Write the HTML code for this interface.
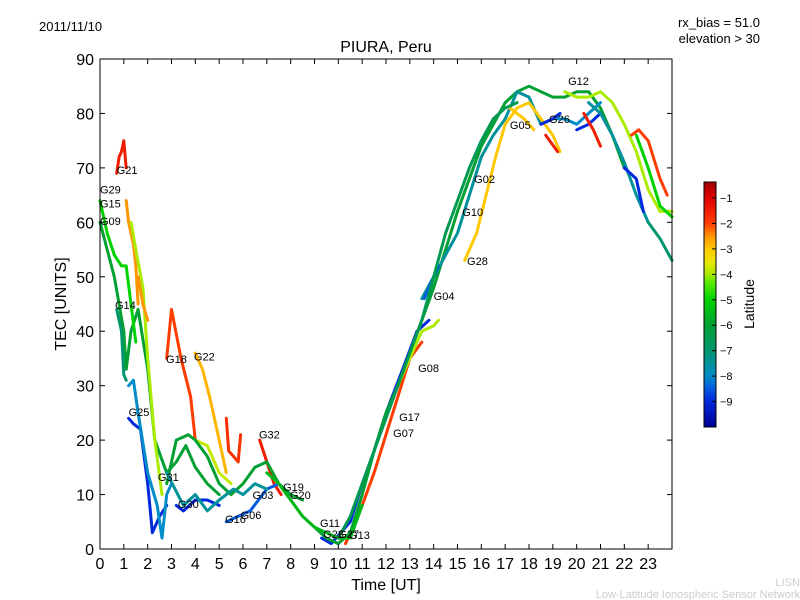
<!DOCTYPE html>
<html><head><meta charset="utf-8"><style>
body{margin:0;background:#fff;}
svg{display:block;font-family:"Liberation Sans","DejaVu Sans",sans-serif;}
</style></head><body>
<svg id="chart" width="800" height="600" viewBox="0 0 800 600" xmlns="http://www.w3.org/2000/svg">
<defs>
<linearGradient id="jet" x1="0" y1="1" x2="0" y2="0"></linearGradient>
</defs>
<text x="39" y="31" font-size="13">2011/11/10</text>
<text x="760" y="27" font-size="13" text-anchor="end">rx_bias = 51.0</text>
<text x="760" y="43" font-size="13" text-anchor="end">elevation &gt; 30</text>
<text x="386" y="52" font-size="16" text-anchor="middle">PIURA, Peru</text>
<g id="plot"></g>
<rect x="100" y="59" width="572" height="490" fill="none" stroke="#000" stroke-width="1"/>
<g id="axes"></g>
<text x="386" y="590" font-size="16" text-anchor="middle">Time [UT]</text>
<text transform="translate(66,304) rotate(-90)" font-size="16" text-anchor="middle">TEC [UNITS]</text>
<rect x="704" y="182" width="12" height="245" fill="url(#jet)" stroke="#000" stroke-width="1"/>
<g id="cbar"></g>
<text transform="translate(754,304) rotate(-90)" font-size="14" text-anchor="middle">Latitude</text>
<text x="800" y="586" font-size="11" fill="#cccccc" text-anchor="end">LISN</text>
<text x="800" y="598" font-size="11" fill="#cccccc" text-anchor="end">Low-Latitude Ionospheric Sensor Network</text>
</svg>
<script>
const xTicks=[0,1,2,3,4,5,6,7,8,9,10,11,12,13,14,15,16,17,18,19,20,21,22,23];
const yTicks=[0,10,20,30,40,50,60,70,80,90];
const cbarTicks=[-1,-2,-3,-4,-5,-6,-7,-8,-9];
const trackLats=[-1.5,-2.5,-6,-5,-7,-9,-8,-4,-2.5,-2,-3.8,-2.8,-1.8,-1.5,-9,-8.5,-6,-7.5,-2,-9,-6,-7.5,-3,-8.5,-4,-4,-9,-8,-9,-7.5,-1.5,-1.5,-3,-9,-2,-7,-5,-5.5,-6.5];
const trackTimes=[
[0.7,0.8,0.9,1.0,1.1],[1.1,1.2,1.3,1.4,1.5,1.6],
[0,0.3,0.6,1.0,1.1,1.3,1.6,2.0,2.3,2.8,3.2,3.6,4.0,4.5,5.0],
[0,0.3,0.6,0.9,1.1,1.3,1.5],[0.7,0.9,1.0,1.1],
[1.2,1.4,1.7,2.0,2.2,2.5,2.8],[1.2,1.4,1.6,2.0,2.4,2.6,2.8,3.0],
[1.3,1.5,1.8,2.0,2.3,2.6],[1.6,1.8,2.0],
[2.8,3.0,3.4,3.8,4.0],[4.0,4.5,5.0,5.5],[4.0,4.3,4.6,5.0,5.3],
[5.3,5.4,5.6,5.8,5.9],[6.7,7.0,7.3,7.6],
[3.2,3.5,4.0,4.5,5.0],[5.3,5.8,6.3,7.0,7.5,8.0],
[2.8,3.2,3.7,4.0,4.5,5.0,5.5,6.0,6.5,7.0,7.5,8.0,8.5],
[2.8,3.5,4.0,4.5,5.0,5.6,6.0,6.5,7.0],
[10.3,11,11.5,12,12.5,13,13.5],
[9.3,9.7,10.5,11,11.5,12,12.7,13.3,13.8],
[7.5,8,8.5,9,9.5,10,10.5,11,11.5,12,12.5,13,13.5,14,14.5,15,15.5,16,16.5,17,17.5,18,18.5,19,19.5,20,20.5,21,21.5,22],
[13.5,14,15,15.5,16,16.5,17,17.5,18,18.5,19],
[15.3,15.8,16.2,16.6,17,17.5,18,18.5,19,19.3],
[13.6,13.9,14.2],[12.5,13,13.5,14,14.2],
[19.5,20,20.5,21,21.5,22,22.5,23,23.5,24],
[18.5,19,19.3],[19.2,19.5,20,20.5,21],[20,20.5,21],
[20.5,21,21.5,22,22.5,23],[20.3,20.7,21],[18.7,19.2],
[17.2,17.8,18.2],[22,22.5,22.8],[22.3,22.6,23,23.5,23.8],
[23,23.5,24],[22.5,23,23.5,24],
[7,7.5,8,8.5,9,9.5,10,10.5,11],[10,10.5,11,11.5,12,12.5,13,13.5,14,14.5,15,15.5,16,16.5,17,17.5]
];
const trackTecs=[
[69,72,73,75,70],[64,60,58,56,52,45],
[60,55,50,40,33,40,44,33,20,14,16,19,15,12,10],
[64,58,54,52,52,45,38],[44,40,32,31],
[24,23,22,12,3,6,8],[30,31,25,14,8,2,10,12],
[60,55,48,35,20,10],[50,45,42],
[35,44,35,28,20],[20,19,14,12],[36,33,28,20,14],
[24,18,17,16,21],[20,16,12,10],
[8,7,9,9,8],[5,6,7,11,12,10],
[12,20,21,20,17,12,10,12,15,16,12,10,9],
[14,8,10,7,9,11,10,12,11],
[1,8,14,21,28,35,38],
[2,1,5,12,18,25,33,40,42],
[12,9,6,4,2,1,3,10,18,25,30,36,42,48,55,62,68,74,78,82,84,85,84,83,83,84,84,81,76,70],
[46,50,58,65,72,76,79,84,83,78,79],
[53,58,65,72,78,81,82,79,76,73],
[46,49,52],[30,35,40,41,42],
[84,83,83,84,82,78,73,66,62,62],
[78,79,80],[79,79,78,80,82],[77,78,80],
[82,80,76,71,65,60],[80,77,74],[76,73],
[81,79,77],[70,68,62],[76,77,75,68,65],
[60,57,53],[76,70,63,61],
[14,12,9,6,4,3,2,2,8],[2,6,12,18,24,30,36,42,50,58,64,70,75,79,81,82]
];
const labelNames=["G21","G29","G15","G09","G14","G25","G18","G22","G32","G31","G30","G16","G06","G03","G19","G20","G11","G23","G27","G13","G07","G17","G08","G04","G28","G10","G02","G05","G26","G12"];
const labelTimes=[0.7,0,0,0,0.63,1.2,2.77,3.94,6.67,2.43,3.27,5.25,5.9,6.4,7.68,7.97,9.23,9.36,10.0,10.45,12.3,12.55,13.35,14.0,15.4,15.2,15.7,17.2,18.84,19.64];
const labelTecs=[69.6,66,63.5,60.2,44.8,25.2,34.9,35.4,21,13.2,8.3,5.5,6.2,9.9,11.4,9.9,4.8,2.8,2.8,2.6,21.3,24.2,33.2,46.5,52.9,61.9,68,77.9,79,86];

const NS="http://www.w3.org/2000/svg";
const X0=100,X1=672,Y0=549,Y1=59;
function xs(t){return X0+t*(X1-X0)/24;}
function ys(v){return Y0-v*(Y0-Y1)/90;}
const LMIN=-10,LMAX=-0.37;
function cy(l){return 427-(l-LMIN)*(245/(LMAX-LMIN));}
const cmapL=[-10,-9,-8.4,-8,-7,-6,-5,-4.3,-4,-3.5,-3,-2.5,-2,-1,-0.37];
const cmapC=[[0,0,150],[0,40,220],[0,100,220],[0,140,200],[0,150,110],[0,160,50],[0,210,0],[90,235,0],[170,235,0],[235,230,0],[255,200,0],[255,150,0],[255,60,0],[225,0,0],[160,0,0]];
function jet(l){
  l=Math.max(LMIN,Math.min(LMAX,l));
  for(let i=0;i<cmapL.length-1;i++){
    if(l<=cmapL[i+1]){
      const f=(l-cmapL[i])/(cmapL[i+1]-cmapL[i]);
      const c=cmapC[i].map((v,k)=>Math.round(v+(cmapC[i+1][k]-v)*f));
      return "rgb("+c.join(",")+")";
    }
  }
  return "rgb(160,0,0)";
}
const grad=document.getElementById('jet');
cmapL.forEach((l,i)=>{
  const s=document.createElementNS(NS,'stop');
  s.setAttribute('offset',((l-LMIN)/(LMAX-LMIN)).toFixed(4));
  s.setAttribute('stop-color',"rgb("+cmapC[i].join(",")+")");
  grad.appendChild(s);
});
const plot=document.getElementById('plot');
for(let i=0;i<trackTimes.length;i++){
  const p=document.createElementNS(NS,'polyline');
  
  
  p.setAttribute('points',trackTimes[i].map((t,j)=>xs(t).toFixed(1)+","+ys(trackTecs[i][j]).toFixed(1)).join(" "));
  p.setAttribute('fill','none');
  p.setAttribute('stroke',jet(trackLats[i]));
  p.setAttribute('stroke-width','3');
  p.setAttribute('stroke-linejoin','round');
  p.setAttribute('stroke-linecap','round');
  plot.appendChild(p);
}
for(let i=0;i<labelNames.length;i++){
  const t=document.createElementNS(NS,'text');
  
  
  t.setAttribute('x',xs(labelTimes[i]));
  t.setAttribute('y',ys(labelTecs[i])+4);
  t.setAttribute('font-size','11');
  t.textContent=labelNames[i];
  plot.appendChild(t);
}
const axes=document.getElementById('axes');
function line(x1,y1,x2,y2,name){
  const l=document.createElementNS(NS,'line');
  
  
  l.setAttribute('x1',x1);l.setAttribute('y1',y1);l.setAttribute('x2',x2);l.setAttribute('y2',y2);
  l.setAttribute('stroke','#000');l.setAttribute('stroke-width','1');
  axes.appendChild(l);
}
function txt(x,y,s,anchor,size,name,parent){
  const t=document.createElementNS(NS,'text');
  
  
  t.setAttribute('x',x);t.setAttribute('y',y);
  t.setAttribute('font-size',size);t.setAttribute('text-anchor',anchor);
  t.textContent=s;parent.appendChild(t);
}
xTicks.forEach(v=>{
  const x=xs(v);
  line(x,Y0,x,Y0-5,'x-tick');line(x,Y1,x,Y1+5,'x-tick-top');
  txt(x,Y0+20,String(v),'middle',16,'x-tick-label',axes);
});
yTicks.forEach(v=>{
  const y=ys(v);
  line(X0,y,X0+5,y,'y-tick');line(X1,y,X1-5,y,'y-tick-right');
  txt(X0-6,y+6,String(v),'end',16,'y-tick-label',axes);
});
const cb=document.getElementById('cbar');
cbarTicks.forEach(v=>{
  const y=cy(v);
  const l=document.createElementNS(NS,'line');
  
  
  l.setAttribute('x1',712);l.setAttribute('x2',716);l.setAttribute('y1',y);l.setAttribute('y2',y);
  l.setAttribute('stroke','#000');cb.appendChild(l);
  txt(720,y+4,"\u2212"+Math.abs(v),'start',11,'colorbar-tick-label',cb);
});
</script>
</body></html>
